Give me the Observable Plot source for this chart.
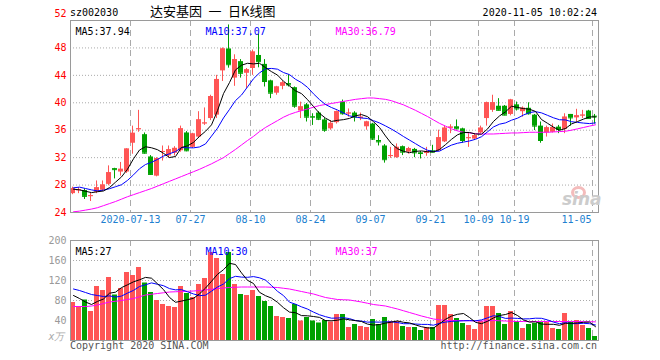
<!DOCTYPE html>
<html><head><meta charset="utf-8">
<script src="https://cdn.jsdelivr.net/npm/d3@7"></script>
<script src="https://cdn.jsdelivr.net/npm/@observablehq/plot@0.6"></script>
<style>
html,body{margin:0;padding:0;background:#fff;}
#wrap{position:relative;width:660px;height:360px;overflow:hidden;font-family:"DejaVu Sans Mono",monospace;font-size:10px;}
.t{position:absolute;white-space:pre;line-height:12px;}
#price,#vol{position:absolute;left:0;}
#price{top:0;}
#vol{top:232px;}
</style></head><body>
<div id="wrap"><div id="price"></div><div id="vol"></div></div>
<script>
const dates = ["06-29","06-30","07-01","07-02","07-03","07-06","07-07","07-08","07-09","07-10","07-13","07-14","07-15","07-16","07-17","07-20","07-21","07-22","07-23","07-24","07-27","07-28","07-29","07-30","07-31","08-03","08-04","08-05","08-06","08-07","08-10","08-11","08-12","08-13","08-14","08-17","08-18","08-19","08-20","08-21","08-24","08-25","08-26","08-27","08-28","08-31","09-01","09-02","09-03","09-04","09-07","09-08","09-09","09-10","09-11","09-14","09-15","09-16","09-17","09-18","09-21","09-22","09-23","09-24","09-25","09-28","09-29","09-30","10-09","10-12","10-13","10-14","10-15","10-16","10-19","10-20","10-21","10-22","10-23","10-26","10-27","10-28","10-29","10-30","11-02","11-03","11-04","11-05"];
const open = [26.75,27.2,27.2,26.35,26.95,27.25,28.1,30.4,29.9,29.9, 34.1,36.1,35.35,32.1,29.3,32.8,32.25,32.65,33.0,35.6, 33.5,35.0,36.95,37.7,38.2,44.65,47.85,43.6,46.0,44.3, 45.0,46.9,45.6,43.2,41.4,42.4,42.8,42.2,38.8,39.7, 38.0,38.5,37.5,36.2,37.1,40.1,38.4,38.5,37.7,36.5, 36.9,34.5,33.7,32.2,32.0,33.6,32.8,33.2,32.7,32.6, 33.0,33.0,34.3,36.3,36.5,36.2,34.8,34.7,35.6,37.7, 38.9,39.5,39.5,38.3,39.7,38.7,39.2,38.2,36.6,35.6, 35.7,36.45,36.1,38.3,37.8,38.1,38.8,38.05];
const high = [27.7,27.6,27.45,26.85,28.6,28.6,30.8,30.45,31.3,33.3, 36.6,38.9,35.6,32.3,32.0,33.7,33.7,33.6,36.6,35.8, 35.55,38.7,39.25,41.1,44.0,48.0,51.35,47.0,46.3,45.0, 47.7,50.0,46.3,43.3,42.4,43.1,44.1,42.3,40.1,39.9, 38.4,38.7,37.7,37.4,38.8,40.4,39.1,38.7,38.5,37.3, 37.0,35.2,33.9,33.5,34.0,33.7,33.5,33.35,32.9,33.5, 33.8,36.0,36.6,36.8,37.5,36.3,35.5,35.5,36.6,40.1, 41.1,40.6,39.6,40.5,40.1,39.4,40.0,38.3,37.2,36.6, 36.9,36.7,38.4,38.3,39.05,38.9,38.9,38.3];
const low = [26.6,26.75,25.9,25.6,26.75,27.1,27.9,28.9,29.3,29.7, 32.5,35.7,32.5,29.4,29.2,31.5,31.9,32.25,32.8,32.85, 33.35,34.8,36.7,37.4,37.7,43.1,45.05,42.4,43.6,42.1, 44.0,45.1,42.3,40.6,41.1,41.9,42.3,39.2,37.7,37.2, 36.7,37.4,35.7,36.0,36.9,38.2,37.9,37.2,37.4,36.0, 34.5,33.7,31.2,31.9,31.9,32.3,32.5,32.0,31.8,32.2, 32.7,32.9,34.2,35.5,36.05,34.1,33.5,34.5,35.5,36.6, 38.6,38.8,38.1,38.1,38.8,37.9,38.2,35.95,34.1,35.0, 35.6,35.5,35.5,36.6,37.2,37.7,37.6,36.9];
const close = [27.45,27.3,26.35,26.45,27.6,28.0,29.8,30.25,30.3,33.25, 35.55,36.2,32.65,29.55,31.85,32.9,33.15,33.35,36.2,33.0, 35.45,37.5,37.05,40.9,43.4,47.85,45.55,46.3,44.3,44.8, 47.4,46.0,43.1,41.4,42.3,42.9,42.6,39.5,39.4,37.9, 37.9,37.6,36.0,37.0,38.7,38.4,38.5,37.9,37.9,37.2, 34.7,34.3,31.7,32.3,33.5,32.8,33.3,32.7,32.6,32.9, 32.8,34.9,36.3,36.45,36.2,34.5,34.9,35.2,36.3,40.0, 40.0,38.9,38.2,40.4,39.1,39.2,38.4,36.6,34.5,36.35, 36.4,36.1,37.9,37.8,38.1,38.2,37.7,37.95];
const ma5 = [27.4,27.3,27.1,26.9,27.03,27.14,27.64,28.42,29.19,30.32, 31.83,33.11,33.59,33.44,33.16,32.63,32.02,32.16,33.49,33.72, 34.23,35.1,35.84,36.78,38.86,41.34,42.95,44.8,45.48,45.76, 45.67,45.76,45.12,44.54,44.04,43.14,42.46,41.74,41.34,40.46, 39.46,38.46,37.76,37.28,37.44,37.54,37.72,38.1,38.28,37.98, 37.24,36.4,35.16,34.04,33.3,32.92,32.72,32.92,32.98,32.86, 32.86,33.18,33.9,34.67,35.33,35.67,35.67,35.45,35.42,36.18, 37.28,38.08,38.68,39.5,39.32,39.16,39.06,38.74,37.56,37.01, 36.45,35.99,36.25,36.91,37.26,37.62,37.94,37.94];
const ma10 = [27.6,27.7,27.5,27.3,27.15,27.27,27.47,27.76,28.05,28.68, 29.49,30.38,31.0,31.32,31.74,32.23,32.57,32.88,33.47,33.44, 33.43,33.56,34.0,35.14,36.29,37.79,39.03,40.32,41.13,42.31, 43.51,44.36,44.96,45.01,44.9,44.41,44.11,43.43,42.94,42.25, 41.3,40.46,39.75,39.31,38.95,38.5,38.09,37.93,37.78,37.71, 37.39,37.06,36.63,36.16,35.64,35.08,34.56,34.04,33.51,33.08, 32.89,32.95,33.41,33.83,34.1,34.27,34.43,34.68,35.05,35.76, 36.48,36.88,37.07,37.46,37.75,38.22,38.57,38.71,38.53,38.17, 37.81,37.53,37.5,37.24,37.14,37.04,36.97,37.07];
const ma30 = [24.1,24.2,24.35,24.5,24.7,25.0,25.3,25.6,25.95,26.3, 26.6,26.9,27.2,27.5,27.85,28.2,28.55,28.9,29.25,29.6, 29.95,30.3,30.7,31.1,31.55,32.0,32.6,33.2,33.85,34.5, 35.1,35.8,36.4,36.9,37.4,37.9,38.3,38.6,38.85,39.1, 39.35,39.6,39.75,39.9,40.05,40.2,40.35,40.5,40.6,40.7, 40.7,40.6,40.5,40.3,40.0,39.7,39.3,38.9,38.45,38.0, 37.5,37.0,36.6,36.2,35.9,35.7,35.6,35.5,35.45,35.45, 35.45,35.5,35.55,35.6,35.6,35.65,35.7,35.7,35.7,35.7, 35.75,35.8,35.85,36.0,36.2,36.4,36.6,36.79];
const volume = [76,68,81,58,108,100,126,91,104,136, 130,146,115,96,80,72,68,66,108,94, 86,112,124,176,164,132,176,112,92,90, 100,88,78,68,48,46,44,72,39,46, 39,35,40,37,52,52,26,32,28,26, 42,32,46,38,38,28,26,26,20,26, 26,70,70,52,44,34,30,22,38,68, 68,54,32,58,38,24,32,34,36,36, 24,22,54,36,40,30,24,8];
const vma5 = [90,84,77,72,78.2,83,94.6,96.6,105.8,111.4, 117.4,121.4,126.2,124.6,113.4,101.8,86.2,76.4,78.8,81.6, 84.4,93.2,104.8,118.4,132.4,141.6,154.4,152,135.2,120.4, 114,96.4,89.6,84.8,76.4,65.6,56.8,55.6,49.8,49.4, 48,46.2,39.8,39.4,40.6,43.2,41.4,39.8,38,32.8, 30.8,32,34.8,36.8,39.2,36.4,35.2,31.2,27.6,25.2, 24.8,33.6,42.4,48.8,52.4,54,46,36.4,33.6,38.4, 45.2,50,52,56,50,41.2,36.8,37.2,32.8,32.4, 32.4,30.4,34.4,34.4,35.2,36.4,36.8,27.6];
const vma10 = [103,100,96,92,90,88,89.3,86.8,88.9,94.8, 100.2,108,111.4,115.2,112.4,109.6,103.8,101.3,101.7,97.5, 93.1,89.7,90.6,98.6,107,113,123.8,128.4,126.8,126.4, 127.8,125.4,120.8,110,98.4,89.8,76.6,72.6,67.3,62.9, 56.8,51.5,47.7,44.6,45,45.6,43.8,39.8,38.7,36.7, 37,36.7,37.3,37.4,36,33.6,33.6,33,32.2,32.2, 30.6,34.4,36.8,38.2,38.8,39.4,39.8,39.4,41.2,45.4, 49.6,48,44.2,44.8,44.2,43.2,43.4,44.6,44.4,41.2, 36.8,33.6,35.8,33.6,33.8,34.4,33.6,31];
const vma30 = [68,68,68,69,71,74,77,78.5,80,82, 84,87.5,91,92.5,94,95.5,97,97.5,98,98.5, 99,100,101,102.5,104,105,106,106.5,107,107, 107,107,107,106.5,106,104.5,103,100.5,98,95.5, 93,89.5,86,84,82,81.5,81,79,77,74.5, 72,70.5,69,66,63,59.5,56,52.5,49,46, 43,41.5,40,40,40,39.8,39.5,39.2,39,39.5, 40,39.5,39,38.5,38,38,38,38,38,38, 38,38,38,38,38,37.8,37.5,37.3];
const tickDates = ["07-13","07-27","08-10","08-24","09-07","09-21","10-09","10-19","11-05"];
const tickLabels = ["2020-07-13","07-27","08-10","08-24","09-07","09-21","10-09","10-19","11-05"];
const priceTicks = [24,28,32,36,40,44,48,52];
const volTicks = [40,80,120,160,200];
const priceLegend = ["MA5:37.94","MA10:37.07","MA30:36.79"];
const volLegend = ["MA5:27","MA10:30","MA30:37"];

const RED = "#ff5555", GREEN = "#00a000", GRID = "#aaaaaa", FRAME = "#9a9a9a";
const LEG = ["#000000","#0000ff","#ff00ff"];
const rows = dates.map((d,i)=>({d,o:open[i],h:high[i],l:low[i],c:close[i],v:volume[i],
  ma5:ma5[i],ma10:ma10[i],ma30:ma30[i],vma5:vma5[i],vma10:vma10[i],vma30:vma30[i],
  col: close[i] >= open[i] ? RED : GREEN}));
const font = {fontFamily:"DejaVu Sans Mono", fontSize:"10px", background:"transparent", overflow:"visible"};
const xs = {type:"band", domain:dates, range:[70,598], padding:0, axis:null};
const lastTick = tickDates[tickDates.length-1];

const legendMarks = (arr) => arr.map((t,i)=>Plot.text([t],{frameAnchor:"top-left", dx:5+130*i, dy:7, textAnchor:"start", fill:LEG[i]}));

const price = Plot.plot({
  width:660, height:232, marginTop:20, marginBottom:20, marginLeft:70, marginRight:62,
  style:font, x:xs, y:{domain:[24,52], range:[212,20], axis:null},
  marks:[
    Plot.ruleY(priceTicks.slice(1,-1), {stroke:GRID, strokeDasharray:"1,2"}),
    Plot.ruleX(tickDates, {x:d=>d, dx:-3, stroke:GRID, strokeDasharray:"6,4"}),
    Plot.ruleX(rows, {x:"d", y1:"l", y2:"h", stroke:"col", dx:-1, style:"shape-rendering:crispEdges"}),
    Plot.barY(rows, {x:"d", y1:"o", y2:"c", fill:"col", insetRight:1}),
    Plot.tickY(rows, {x:"d", y:"c", stroke:"col", insetRight:1}),
    Plot.line(rows, {x:"d", y:"ma30", stroke:LEG[2], strokeWidth:1}),
    Plot.line(rows, {x:"d", y:"ma10", stroke:LEG[1], strokeWidth:1}),
    Plot.line(rows, {x:"d", y:"ma5", stroke:LEG[0], strokeWidth:1}),
    Plot.frame({stroke:FRAME}),
    Plot.text(priceTicks.filter(v=>v!==52), {y:d=>d, text:d=>String(d), frameAnchor:"left", dx:-4, textAnchor:"end", fill:"#ff0000"}),
    Plot.text([52], {y:d=>d, text:d=>String(d), frameAnchor:"left", dx:-4, dy:-7, textAnchor:"end", fill:"#ff0000"}),
    Plot.text(tickDates.filter(d=>d!==lastTick), {x:d=>d, text:(d,i)=>tickLabels[i], frameAnchor:"bottom", dx:-3, dy:10, fill:"#2080d0"}),
    Plot.text([lastTick], {x:d=>d, text:()=>tickLabels[tickLabels.length-1], frameAnchor:"bottom", dx:-4, dy:10, textAnchor:"end", fill:"#2080d0"}),
    ...legendMarks(priceLegend)
  ]
});
document.getElementById("price").appendChild(price);

const vol = Plot.plot({
  width:660, height:128, marginTop:8, marginBottom:20, marginLeft:70, marginRight:62,
  style:font, x:xs, y:{domain:[0,200], range:[108,8], axis:null},
  marks:[
    Plot.ruleY(volTicks.slice(0,-1), {stroke:GRID, strokeDasharray:"1,2"}),
    Plot.ruleX(tickDates, {x:d=>d, dx:-3, stroke:GRID, strokeDasharray:"6,4"}),
    Plot.barY(rows, {x:"d", y:"v", fill:"col", insetRight:1}),
    Plot.line(rows, {x:"d", y:"vma30", stroke:LEG[2], strokeWidth:1}),
    Plot.line(rows, {x:"d", y:"vma10", stroke:LEG[1], strokeWidth:1}),
    Plot.line(rows, {x:"d", y:"vma5", stroke:LEG[0], strokeWidth:1}),
    Plot.frame({stroke:FRAME}),
    Plot.text(volTicks, {y:d=>d, text:d=>String(d), frameAnchor:"left", dx:-4, textAnchor:"end", fill:"#999999"}),
    Plot.text(["x万"], {frameAnchor:"bottom-left", dx:-6, dy:-1, textAnchor:"end", fill:"#aaaaaa", fontStyle:"italic"}),
    ...legendMarks(volLegend)
  ]
});
document.getElementById("vol").appendChild(vol);

const wrap = document.getElementById("wrap");
function label(text, css){const el=document.createElement("div");el.className="t";el.textContent=text;Object.assign(el.style,css);wrap.appendChild(el);return el;}
label("sz002030",{left:"70px",top:"7px",color:"#000"});
label("达安基因\u2002一\u2002日K线图",{left:"150px",top:"3px",fontFamily:'"Noto Sans CJK SC"',fontSize:"13px",lineHeight:"15px",color:"#000"});
label("2020-11-05 10:02:24",{right:"63px",top:"7px",color:"#000"});
label("Copyright 2020 SINA.COM",{left:"70px",top:"340px",color:"#555"});
label("http://finance.sina.com.cn",{right:"63px",top:"340px",color:"#555"});
const ring=document.createElement("div");
Object.assign(ring.style,{position:"absolute",left:"571px",top:"186px",width:"9px",height:"7px",border:"3px solid #f4bcbc",borderRadius:"50%"});
wrap.appendChild(ring);
label("sina",{left:"562px",top:"190px",fontFamily:'"DejaVu Sans"',fontStyle:"italic",fontWeight:"bold",fontSize:"17px",lineHeight:"18px",color:"#cccccc"});
</script>
</body></html>
